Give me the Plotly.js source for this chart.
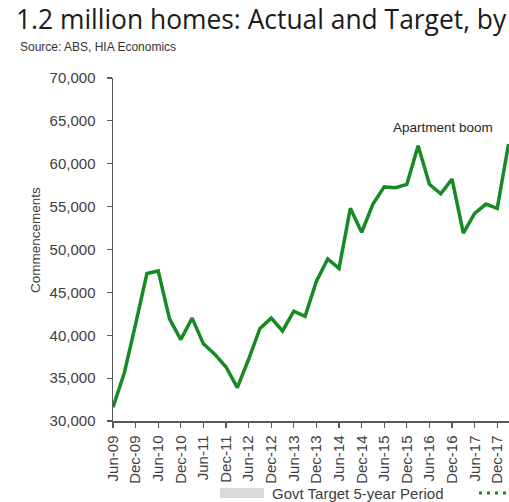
<!DOCTYPE html>
<html>
<head>
<meta charset="utf-8">
<script src="https://cdn.plot.ly/plotly-3.0.1.min.js"></script>
<style>
html,body{margin:0;padding:0;background:#fff;}
#chart{width:509px;height:502px;}
</style>
</head>
<body>
<div id="chart"></div>
<script>
// Quarterly dwelling commencements
var quarters = ["Jun-09","Sep-09","Dec-09","Mar-10","Jun-10","Sep-10","Dec-10","Mar-11","Jun-11","Sep-11","Dec-11","Mar-12",
  "Jun-12","Sep-12","Dec-12","Mar-13","Jun-13","Sep-13","Dec-13","Mar-14","Jun-14","Sep-14","Dec-14","Mar-15",
  "Jun-15","Sep-15","Dec-15","Mar-16","Jun-16","Sep-16","Dec-16","Mar-17","Jun-17","Sep-17","Dec-17","Mar-18"];
var commencements = [31600,35600,41300,47200,47500,41900,39500,42000,39000,37800,36300,33900,
  37200,40800,42000,40500,42800,42200,46300,48900,47800,54800,52000,55300,
  57300,57200,57600,62100,57600,56500,58200,51900,54200,55300,54800,62300];
var tickLabels = ["Jun-09","Dec-09","Jun-10","Dec-10","Jun-11","Dec-11","Jun-12","Dec-12","Jun-13","Dec-13",
  "Jun-14","Dec-14","Jun-15","Dec-15","Jun-16","Dec-16","Jun-17","Dec-17"];
var yTicks = [30000,35000,40000,45000,50000,55000,60000,65000,70000];

var green = "#178a24";
var axisFont = {family:"Liberation Sans, Arial, sans-serif", size:15, color:"#404040"};

var trace = {
  x: quarters,
  y: commencements,
  type: "scatter",
  mode: "lines",
  line: {color: green, width: 3.5},
  showlegend: false,
  hoverinfo: "x+y"
};

var layout = {
  width: 509, height: 502,
  margin: {l:113, r:0, t:78, b:81},
  paper_bgcolor: "#fff", plot_bgcolor: "#fff",
  title: {
    text: "1.2 million homes: Actual and Target, by",
    font: {family:"Open Sans, sans-serif", size:26.4, color:"#1a1a1a"},
    xref: "container", x: 16/509, xanchor: "left",
    yref: "container", y: 1 - 20/502, yanchor: "middle"
  },
  xaxis: {
    type: "category",
    categoryorder: "array", categoryarray: quarters,
    range: [0, 35.04],
    tickmode: "array", tickvals: tickLabels, ticktext: tickLabels,
    tickangle: -90,
    ticks: "outside", ticklen: 5, tickwidth: 1.2, tickcolor: "#595959",
    showline: true, linecolor: "#595959", linewidth: 1.5,
    showgrid: false, zeroline: false,
    tickfont: axisFont,
    ticklabelstandoff: 2,
    fixedrange: true
  },
  yaxis: {
    range: [30000, 70000],
    tickmode: "array", tickvals: yTicks,
    tickformat: ",d",
    ticks: "outside", ticklen: 5, tickwidth: 1.2, tickcolor: "#595959",
    showline: true, linecolor: "#595959", linewidth: 1.5,
    showgrid: false, zeroline: false,
    tickfont: axisFont,
    ticklabelstandoff: 8,
    fixedrange: true
  },
  annotations: [
    {text:"Source: ABS, HIA Economics", xref:"paper", yref:"paper",
     x:(18-113)/396, y:(421-47)/343, xanchor:"left", yanchor:"middle", showarrow:false,
     font:{family:"Liberation Sans, Arial, sans-serif", size:12, color:"#333"}},
    {text:"Commencements", xref:"paper", yref:"paper",
     x:(36-113)/396, y:(421-240)/343, xanchor:"center", yanchor:"middle", textangle:-90, showarrow:false,
     font:{family:"Liberation Sans, Arial, sans-serif", size:13.5, color:"#404040"}},
    {text:"Apartment boom", xref:"x", yref:"y", x:29.2, y:64170,
     xanchor:"center", yanchor:"middle", showarrow:false,
     font:{family:"Liberation Sans, Arial, sans-serif", size:13.5, color:"#262626"}},
    {text:"Govt Target 5-year Period", xref:"paper", yref:"paper",
     x:(270-113)/396, y:(421-493)/343, xanchor:"left", yanchor:"middle", showarrow:false,
     font:{family:"Liberation Sans, Arial, sans-serif", size:15, color:"#404040"}}
  ],
  shapes: [
    {type:"rect", xref:"paper", yref:"paper",
     x0:(220-113)/396, x1:(264-113)/396, y0:(421-488)/343, y1:(421-498)/343,
     fillcolor:"#d9d9d9", line:{width:0}},
    {type:"line", xref:"paper", yref:"paper",
     x0:(479-113)/396, x1:(512-113)/396, y0:(421-493)/343, y1:(421-493)/343,
     line:{color:green, width:3, dash:"3px,5px"}}
  ]
};

Plotly.newPlot("chart", [trace], layout, {displayModeBar:false, staticPlot:true});
</script>
</body>
</html>
